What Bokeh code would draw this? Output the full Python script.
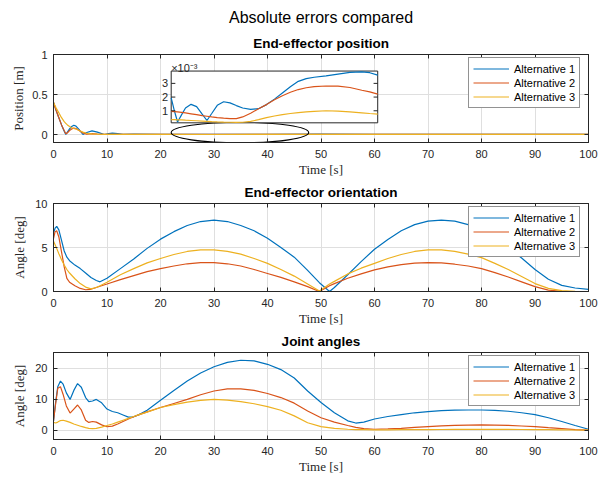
from bokeh.plotting import figure
from bokeh.models import Range1d, FixedTicker, LinearAxis, Title, Legend, LegendItem
from bokeh.layouts import column
from bokeh.embed import file_html
from bokeh.resources import INLINE
from bokeh.core.properties import value

# ---------------- data ----------------
SERIES_NAMES = ["Alternative 1", "Alternative 2", "Alternative 3"]
COLORS = ["#0072BD", "#D95319", "#EDB120"]
X_TICKS = [0, 10, 20, 30, 40, 50, 60, 70, 80, 90, 100]

# End-effector position [m]
pos_t = [0, 0.5, 1, 1.5, 2, 2.3, 2.6, 3, 3.4, 3.8, 4.2, 4.8, 5.5, 6.2, 7.2, 8.2, 9.5,
         10.3, 11, 12, 13, 15, 20, 30, 40, 50, 60, 70, 80, 90, 100]
pos_alt1 = [0.40, 0.30, 0.21, 0.12, 0.04, 0.0, 0.03, 0.07, 0.10, 0.115, 0.105, 0.06, 0.0,
            0.025, 0.045, 0.03, 0.0, 0.01, 0.016, 0.01, 0.003, 0.004, 0.002, 0.0015, 0.0033,
            0.0036, 0.003, 0.002, 0.002, 0.002, 0.002]
pos_alt2 = [0.40, 0.30, 0.21, 0.12, 0.05, 0.01, 0.02, 0.05, 0.07, 0.08, 0.075, 0.05, 0.02,
            0.003, 0.01, 0.006, 0.002, 0.002, 0.001, 0.001, 0.001, 0.001, 0.001, 0.0005,
            0.002, 0.0025, 0.002, 0.002, 0.002, 0.002, 0.002]
pos_alt3 = [0.40, 0.33, 0.27, 0.21, 0.16, 0.14, 0.12, 0.10, 0.085, 0.075, 0.068, 0.05, 0.03,
            0.015, 0.008, 0.004, 0.002, 0.001, 0.001, 0.001, 0.001, 0.0005, 0.0004, 0.0002,
            0.0009, 0.0008, 0.0007, 0.0007, 0.0007, 0.0007, 0.0007]
pos_yticks = [0, 0.5, 1]

# zoomed inset (values in units of 1e-3 m)
ins_t = [22, 22.4, 22.8, 23.3, 23.8, 24.5, 25.2, 25.9, 26.5, 27.1, 27.8, 28.6, 29.4, 30.2,
         31, 32, 33, 34, 35, 36, 37, 38, 39, 40, 41.5, 43, 44.5, 46, 47, 48]
ins_alt1 = [1.94, 1.0, 0.18, 0.7, 1.2, 1.47, 1.3, 0.75, 0.29, 0.8, 1.4, 1.66, 1.58, 1.38,
            1.2, 1.1, 1.15, 1.45, 1.85, 2.3, 2.75, 3.15, 3.35, 3.45, 3.55, 3.68, 3.8, 3.84,
            3.78, 3.6]
ins_alt2 = [0.95, 0.94, 0.92, 0.88, 0.84, 0.78, 0.72, 0.65, 0.6, 0.55, 0.5, 0.46, 0.43, 0.43,
            0.55, 0.82, 1.15, 1.45, 1.8, 2.1, 2.35, 2.55, 2.68, 2.76, 2.81, 2.8, 2.7, 2.5,
            2.38, 2.22]
ins_alt3 = [0.36, 0.35, 0.34, 0.33, 0.31, 0.29, 0.27, 0.25, 0.23, 0.21, 0.19, 0.17, 0.16,
            0.15, 0.16, 0.22, 0.35, 0.5, 0.62, 0.72, 0.8, 0.87, 0.92, 0.96, 1.0, 0.98, 0.92,
            0.85, 0.8, 0.76]
ins_yticks = [1, 2, 3]
ins_tick_labels = ["1", "2", "3"]
ins_scale_label = "\u00d710\u207b\u00b3"

# End-effector orientation [deg]
ori_t = [0, 0.3, 0.6, 1, 1.5, 2, 2.5, 3, 4, 5, 6, 7, 8, 8.7, 10, 12.5, 15, 17.5, 20, 22.5,
         25, 27.5, 30, 32.5, 35, 37.5, 40, 42.5, 45, 47.5, 49.7, 51.6, 52.5, 55, 57.5, 60,
         62.5, 65, 67.5, 70, 72.5, 75, 77.5, 80, 82.5, 85, 87.5, 90, 92.5, 95, 97.5, 100]
ori_alt1 = [6.6, 7.2, 7.4, 7.0, 5.8, 4.6, 3.9, 3.5, 3.0, 2.6, 2.1, 1.6, 1.25, 1.1, 1.5, 2.6,
            3.7, 4.9, 5.95, 6.8, 7.5, 7.95, 8.1, 7.95, 7.5, 6.9, 6.05, 5.0, 3.9, 2.4, 1.0,
            0.0, 0.45, 1.9, 3.4, 4.8, 5.9, 6.9, 7.6, 8.0, 8.1, 8.0, 7.6, 7.0, 6.1, 5.0, 3.8,
            2.5, 1.4, 0.7, 0.4, 0.25]
ori_alt2 = [6.0, 6.8, 6.9, 6.2, 4.5, 2.8, 1.5, 1.05, 0.65, 0.35, 0.2, 0.25, 0.45, 0.6, 0.85,
            1.35, 1.8, 2.25, 2.6, 2.9, 3.15, 3.28, 3.28, 3.15, 2.9, 2.5, 2.05, 1.6, 1.1, 0.55,
            0.0, 0.65, 0.9, 1.5, 2.0, 2.45, 2.8, 3.05, 3.22, 3.28, 3.25, 3.1, 2.9, 2.6, 2.15,
            1.65, 1.1, 0.55, 0.15, 0.03, 0.0, 0.0]
ori_alt3 = [5.7, 5.3, 4.9, 4.3, 3.6, 3.0, 2.5, 2.1, 1.45, 0.9, 0.5, 0.3, 0.45, 0.65, 1.05, 1.9,
            2.6, 3.25, 3.75, 4.2, 4.55, 4.72, 4.72, 4.55, 4.25, 3.75, 3.2, 2.5, 1.75, 0.85,
            0.05, 0.85, 1.15, 2.0, 2.65, 3.2, 3.75, 4.2, 4.55, 4.72, 4.72, 4.55, 4.25, 3.85,
            3.2, 2.5, 1.7, 0.9, 0.35, 0.1, 0.02, 0.0]
ori_yticks = [0, 5, 10]

# Joint angles [deg]
jnt_t = [0, 0.4, 0.8, 1.3, 1.8, 2.4, 3.1, 3.8, 4.5, 5.2, 6, 6.6, 7.3, 8, 9, 10, 11, 12, 13,
         14, 15, 16, 17.5, 20, 22.5, 25, 27.5, 30, 32.5, 35, 37.5, 40, 42.5, 45, 47.5, 50,
         52.5, 55, 56.5, 58, 60, 62.5, 65, 67.5, 70, 72.5, 75, 77.5, 80, 82.5, 85, 87.5, 90,
         92.5, 95, 97.5, 100]
jnt_alt1 = [3.0, 9.0, 14.0, 15.8, 14.8, 12.0, 9.9, 12.8, 15.0, 13.8, 10.5, 9.2, 9.4, 9.9, 8.8,
            6.8, 6.0, 5.6, 4.9, 4.2, 4.3, 5.0, 6.4, 9.6, 12.8, 15.8, 18.4, 20.4, 21.8, 22.5,
            22.3, 21.2, 19.5, 16.8, 12.6, 8.9, 5.6, 3.0, 2.3, 2.6, 3.6, 4.4, 5.0, 5.6, 6.0,
            6.3, 6.45, 6.5, 6.5, 6.4, 6.1, 5.6, 5.0, 4.0, 2.8, 1.5, 0.3]
jnt_alt2 = [3.0, 8.5, 13.5, 14.0, 11.5, 7.8, 5.5, 6.8, 8.1, 6.5, 3.2, 2.5, 2.8, 2.6, 1.7, 1.1,
            1.3, 2.0, 2.8, 3.6, 4.3, 5.0, 5.9, 7.3, 8.6, 9.9, 11.4, 12.6, 13.3, 13.3, 12.8,
            11.8, 10.5, 8.7, 6.2, 4.0, 2.6, 1.5, 0.9, 0.5, 0.3, 0.4, 0.6, 0.9, 1.15, 1.4, 1.55,
            1.65, 1.7, 1.65, 1.55, 1.35, 1.15, 0.8, 0.5, 0.2, 0.0]
jnt_alt3 = [2.5, 2.3, 2.6, 3.1, 3.2, 2.9, 2.5, 2.0, 1.6, 1.2, 0.8, 0.6, 0.5, 0.6, 1.0, 1.5,
            2.0, 2.6, 3.2, 3.8, 4.4, 5.0, 5.8, 7.3, 8.2, 9.0, 9.6, 9.9, 9.7, 9.2, 8.5, 7.6,
            6.4, 4.6, 2.4, 1.15, 0.6, 0.3, 0.2, 0.15, 0.1, 0.12, 0.15, 0.18, 0.2, 0.22, 0.25,
            0.28, 0.3, 0.28, 0.25, 0.22, 0.2, 0.15, 0.1, 0.05, 0.0]
jnt_yticks = [0, 10, 20]

# ---------------- style ----------------
DARK = "#262626"
SANS = "Liberation Sans"
SERIF = "Liberation Serif"
GRID = "#dfdfdf"


def style_axis(ax, ticks, label=None, label_standoff=0, hidden_labels=False,
               tick_standoff=6):
    ax.ticker = FixedTicker(ticks=ticks)
    ax.major_tick_in = 4
    ax.major_tick_out = 0
    ax.minor_tick_in = 0
    ax.minor_tick_out = 0
    ax.axis_line_color = DARK
    ax.major_tick_line_color = DARK
    ax.major_label_text_color = DARK
    ax.major_label_text_font = SANS
    ax.major_label_text_font_size = "11px"
    if hidden_labels:
        ax.major_label_overrides = {tk: "" for tk in ticks}
        ax.major_label_standoff = 0
    else:
        ax.major_label_standoff = tick_standoff
    if label is not None:
        ax.axis_label = label
        ax.axis_label_text_font = SERIF
        ax.axis_label_text_font_style = "normal"
        ax.axis_label_text_font_size = "13px"
        ax.axis_label_text_color = DARK
        ax.axis_label_standoff = label_standoff


def make_fig(height, ylim, yticks, ylabel, title, bt, bb, ylabel_standoff,
             t, series, legend_xy, title_standoff):
    p = figure(width=602, height=height, x_range=Range1d(0, 100),
               y_range=Range1d(*ylim), output_backend="svg", toolbar_location=None,
               min_border_left=53, min_border_right=14, min_border_top=bt,
               min_border_bottom=bb)
    p.title = None
    style_axis(p.xaxis[0], X_TICKS, "Time [s]", 1, tick_standoff=7)
    style_axis(p.yaxis[0], yticks, ylabel, ylabel_standoff)
    top_ax = LinearAxis()
    style_axis(top_ax, X_TICKS, hidden_labels=True)
    right_ax = LinearAxis()
    style_axis(right_ax, yticks, hidden_labels=True)
    p.add_layout(top_ax, "above")
    p.add_layout(right_ax, "right")
    p.xgrid.ticker = FixedTicker(ticks=X_TICKS)
    p.ygrid.ticker = FixedTicker(ticks=yticks)
    p.grid.grid_line_color = GRID
    p.outline_line_color = DARK
    p.background_fill_color = "white"
    p.border_fill_color = "white"
    p.add_layout(Title(text=title, align="center", text_font=SANS,
                       text_font_size="13.5px", text_font_style="bold",
                       text_color="black", standoff=title_standoff), "above")
    items = []
    for name, col, ys in zip(SERIES_NAMES, COLORS, series):
        r = p.line(t, ys, line_color=col, line_width=1.2)
        items.append(LegendItem(label=name, renderers=[r]))
    leg = Legend(items=items, location=legend_xy, label_text_font=SANS,
                 label_text_font_size="11px", label_text_color="black",
                 glyph_width=36, glyph_height=13, label_height=13, spacing=1,
                 padding=4, label_standoff=5, border_line_color=DARK,
                 background_fill_alpha=1.0)
    return p, leg


p1, leg1 = make_fig(179, (-0.1, 1), pos_yticks, "Position [m]", "End-effector position",
                    54, 36, 3, pos_t, [pos_alt1, pos_alt2, pos_alt3], (415, 34), 7)
p1.add_layout(Title(text="Absolute errors compared", align="center", offset=-13,
                    text_font=SANS, text_font_size="16px", text_font_style="normal",
                    text_color="black", standoff=10), "above")

# ellipse marking the zoomed region
ELL = dict(x=[34.85], y=[0.024], width=[25.7], height=[0.257])
p1.ellipse(**ELL, fill_alpha=0, line_color="black", line_width=1.1)

# inset
INS_X_SRC = (22, 48)
INS_Y_SRC = (0.12, 3.9)
INS_X_TGT = (22.0, 60.6)
INS_Y_TGT = (0.146, 0.793)
sub = p1.subplot(x_source=Range1d(*INS_X_SRC), y_source=Range1d(*INS_Y_SRC),
                 x_target=Range1d(*INS_X_TGT), y_target=Range1d(*INS_Y_TGT))
sub.quad(left=[INS_X_SRC[0]], right=[INS_X_SRC[1]], bottom=[INS_Y_SRC[0]],
         top=[INS_Y_SRC[1]], fill_color="white", line_color=DARK, line_width=1)
for col, ys in zip(COLORS, [ins_alt1, ins_alt2, ins_alt3]):
    sub.line(ins_t, ys, line_color=col, line_width=1.2)
tick_len = 0.02 * (INS_X_SRC[1] - INS_X_SRC[0])
sub.segment(x0=[INS_X_SRC[0]] * 3, y0=ins_yticks, x1=[INS_X_SRC[0] + tick_len] * 3,
            y1=ins_yticks, line_color=DARK)
sub.segment(x0=[INS_X_SRC[1]] * 3, y0=ins_yticks, x1=[INS_X_SRC[1] - tick_len] * 3,
            y1=ins_yticks, line_color=DARK)
sub.text(x=[INS_X_SRC[0]] * 3, y=ins_yticks, text=ins_tick_labels, text_align="right",
         text_baseline="middle", x_offset=-3, text_font=value(SANS),
         text_font_size="11px", text_color=DARK)
sub.text(x=[INS_X_SRC[0]], y=[INS_Y_SRC[1]], text=[ins_scale_label], text_align="left",
         text_baseline="alphabetic", y_offset=-3, text_font=value(SANS),
         text_font_size="11px", text_color=DARK)
p1.add_layout(leg1)

p2, leg2 = make_fig(149, (0, 10), ori_yticks, "Angle [deg]", "End-effector orientation",
                    24, 36, 5, ori_t, [ori_alt1, ori_alt2, ori_alt3], (415, 34), 7)
p2.add_layout(leg2)
p3, leg3 = make_fig(148, (-3, 25), jnt_yticks, "Angle [deg]", "Joint angles",
                    24, 36, 5, jnt_t, [jnt_alt1, jnt_alt2, jnt_alt3], (415, 33), 7)
p3.add_layout(leg3)

layout = column(p1, p2, p3)
open("out.html", "w").write(file_html(layout, INLINE))
